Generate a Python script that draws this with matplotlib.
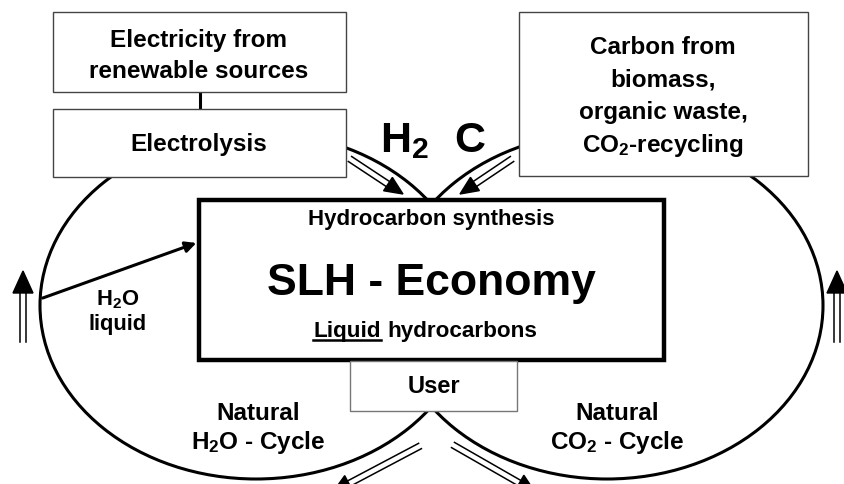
"""SLH economy diagram: hydrocarbon synthesis between the natural H2O and CO2 cycles."""

import matplotlib.pyplot as plt
import numpy as np
from matplotlib.lines import Line2D
from matplotlib.patches import Ellipse, Polygon, Rectangle

plt.rcParams["font.family"] = ["Liberation Sans", "DejaVu Sans"]
plt.rcParams["font.weight"] = "bold"
plt.rcParams["mathtext.default"] = "regular"

W, H = 845, 485

SOURCE_LINES = ["Electricity from", "renewable sources"]
CARBON_LINES = ["Carbon from", "biomass,", "organic waste,", "CO$_2$-recycling"]
WATER_LINES = ["H$_2$O", "liquid"]
CYCLE_LEFT = ["Natural", "H$_2$O - Cycle"]
CYCLE_RIGHT = ["Natural", "CO$_2$ - Cycle"]


def box(ax, x, y, w, h, lw=1.0, ec="#444444"):
    ax.add_patch(Rectangle((x, y), w, h, fc="white", ec=ec, lw=lw, zorder=3))


def lines_text(ax, x, y0, lines, step, size):
    for i, line in enumerate(lines):
        ax.text(x, y0 + i * step, line, ha="center", va="center", fontsize=size,
                fontweight="bold", zorder=5)


def double_arrow(ax, start, tip, gap=3.0, head_len=18, head_w=8):
    """Hollow-shaft arrow: two parallel lines and a filled head."""
    p0 = np.array(start, float)
    p1 = np.array(tip, float)
    u = (p1 - p0) / np.linalg.norm(p1 - p0)
    n = np.array([-u[1], u[0]])
    base = p1 - head_len * u
    for s in (-1, 1):
        a, b = p0 + s * gap * n, base + s * gap * n
        ax.add_line(Line2D([a[0], b[0]], [a[1], b[1]], color="black", lw=1.1, zorder=4))
    head = [p1, base + head_w * n, base - head_w * n]
    ax.add_patch(Polygon(head, closed=True, fc="black", ec="black", zorder=4))


fig = plt.figure(figsize=(W / 100, H / 100), dpi=100)
ax = fig.add_axes([0, 0, 1, 1])
ax.set_xlim(0, W)
ax.set_ylim(H, 0)
ax.axis("off")

# the two natural cycles
ax.add_patch(Ellipse((256, 306.5), 432, 347, fill=False, ec="black", lw=2.2, zorder=1))
ax.add_patch(Ellipse((607, 306.5), 432, 347, fill=False, ec="black", lw=2.2, zorder=1))

# source boxes
box(ax, 53, 13, 293, 80)
ax.add_line(Line2D([200, 200], [93, 110], color="black", lw=2.2, zorder=2))
box(ax, 53, 110, 293, 68)
box(ax, 519, 13, 289, 164)
lines_text(ax, 199, 40, SOURCE_LINES, 32, 17.5)
lines_text(ax, 199, 145, ["Electrolysis"], 0, 17.5)
lines_text(ax, 663, 48, CARBON_LINES, 32.5, 17.5)

# main box
box(ax, 199, 201, 465, 160, lw=3.2, ec="black")
lines_text(ax, 431, 220, ["Hydrocarbon synthesis"], 0, 16)
lines_text(ax, 431, 284, ["SLH - Economy"], 0, 32)
t1 = ax.text(381, 332, "Liquid", ha="right", va="center", fontsize=16.2, zorder=5)
ax.text(387, 332, "hydrocarbons", ha="left", va="center", fontsize=16.2, zorder=5)

# user box
box(ax, 350, 362, 167, 50, lw=1.0, ec="#777777")
lines_text(ax, 434, 387, ["User"], 0, 17)

# H2 and C labels
ax.text(380, 152, "H$_2$", ha="left", va="baseline", fontsize=31, zorder=5)
ax.text(470, 152, "C", ha="center", va="baseline", fontsize=31, zorder=5)

# water feed
ax.annotate("", xy=(199, 243), xytext=(40, 300),
            arrowprops=dict(arrowstyle="-|>", color="black", lw=2.2, mutation_scale=16),
            zorder=4)
lines_text(ax, 118, 300, WATER_LINES, 25, 15.8)

lines_text(ax, 258, 414, CYCLE_LEFT, 29, 17.5)
lines_text(ax, 617, 414, CYCLE_RIGHT, 29, 17.5)

# flow arrows
double_arrow(ax, (23, 343), (23, 272), gap=3, head_len=22, head_w=10)
double_arrow(ax, (837, 343), (837, 272), gap=3, head_len=22, head_w=10)
double_arrow(ax, (350, 160), (403, 195), gap=3, head_len=18, head_w=8)
double_arrow(ax, (512, 160), (460, 195), gap=3, head_len=18, head_w=8)
double_arrow(ax, (420, 447), (333, 493), gap=3, head_len=18, head_w=9)
double_arrow(ax, (453, 446), (535, 493), gap=3, head_len=18, head_w=9)

# underline "Liquid"
fig.canvas.draw()
bb = t1.get_window_extent().transformed(ax.transData.inverted())
x0, x1 = sorted([bb.x0, bb.x1])
ybot = max(bb.y0, bb.y1)
ax.add_line(Line2D([x0, x1], [ybot - 2, ybot - 2], color="black", lw=1.8, zorder=5))

fig.savefig("out.png", dpi=100)
